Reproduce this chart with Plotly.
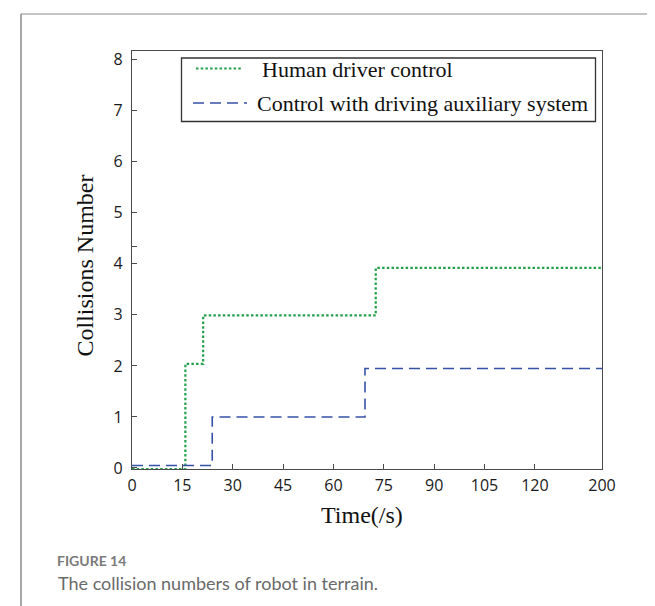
import plotly.graph_objects as go

# ---- data ----
human_t = [0, 15.9, 21.2, 72.6, 140]
human_n = [-0.02, 2.04, 2.99, 3.92, 3.92]

assist_t = [0, 23.9, 69.4, 140]
assist_n = [0.05, 1.0, 1.95, 1.95]

x_tickvals = [0, 15, 30, 45, 60, 75, 90, 105, 120, 140]
x_ticktext = ["0", "15", "30", "45", "60", "75", "90", "105", "120", "200"]
y_tickvals = [0, 1, 2, 3, 4, 4.33, 5, 6, 7, 8]
y_ticktext = ["0", "1", "2", "3", "4", "", "5", "6", "7", "8"]

series_names = ["Human driver control", "Control with driving auxiliary system"]
series_colors = ["#22a04a", "#3552a6"]
series_dash = ["2.5px,2.2px", "11px,6px"]
series_width = [2.2, 1.6]

serif = "Liberation Serif, Times New Roman, serif"
sans = "Open Sans, Noto Sans, sans-serif"
caption_font = "Lato, Open Sans, sans-serif"

# figure geometry (pixels)
W, H = 655, 606
L, R, T, B = 124, 61, 43, 145
PW, PH = W - L - R, H - T - B


def px_x(p):
    return (p - L) / PW


def px_y(p):
    return (H - B - p) / PH


fig = go.Figure()
for t, n, name, col, dsh, wd in [
    (human_t, human_n, series_names[0], series_colors[0], series_dash[0], series_width[0]),
    (assist_t, assist_n, series_names[1], series_colors[1], series_dash[1], series_width[1]),
]:
    fig.add_trace(go.Scatter(
        x=t, y=n, mode="lines", line_shape="hv", name=name,
        line=dict(color=col, width=wd, dash=dsh),
    ))

axis_common = dict(
    showline=True, linecolor="#4a4a4a", linewidth=1.4, mirror=True,
    ticks="inside", ticklen=5, tickcolor="#4a4a4a", tickwidth=1.2,
    showgrid=False, zeroline=False,
    tickfont=dict(family=sans, size=16, color="#1a1a1a"),
)

fig.update_xaxes(range=[0, 140], tickmode="array", tickvals=x_tickvals,
                 ticktext=x_ticktext, ticklabelstandoff=2, **axis_common)
fig.update_yaxes(range=[-0.02, 8.17], tickmode="array", tickvals=y_tickvals,
                 ticktext=y_ticktext, ticklabelstandoff=5, **axis_common)

shapes = [
    # page frame lines
    dict(type="line", xref="paper", yref="paper",
         x0=px_x(13), x1=px_x(660), y0=px_y(6), y1=px_y(6),
         line=dict(color="#c4c4c4", width=2)),
    dict(type="line", xref="paper", yref="paper",
         x0=px_x(13), x1=px_x(13), y0=px_y(6), y1=px_y(612),
         line=dict(color="#8a8a8a", width=1.5)),
    # legend box
    dict(type="rect", xref="paper", yref="paper",
         x0=px_x(173.5), x1=px_x(587.5), y0=px_y(50), y1=px_y(113.5),
         fillcolor="white", line=dict(color="#333", width=1.3), layer="above"),
    # legend samples
    dict(type="line", xref="paper", yref="paper",
         x0=px_x(188), x1=px_x(235), y0=px_y(60.5), y1=px_y(60.5),
         line=dict(color=series_colors[0], width=2.0, dash=series_dash[0]), layer="above"),
    dict(type="line", xref="paper", yref="paper",
         x0=px_x(185), x1=px_x(239), y0=px_y(95), y1=px_y(95),
         line=dict(color=series_colors[1], width=1.6, dash=series_dash[1]), layer="above"),
]

annotations = [
    # legend texts
    dict(text=series_names[0], xref="paper", yref="paper",
         x=px_x(252), y=px_y(61.5), xanchor="left", yanchor="middle", showarrow=False,
         font=dict(family=serif, size=22, color="#111")),
    dict(text=series_names[1], xref="paper", yref="paper",
         x=px_x(246.5), y=px_y(95), xanchor="left", yanchor="middle", showarrow=False,
         font=dict(family=serif, size=22, color="#111")),
    # axis titles
    dict(text="Time(/s)", xref="paper", yref="paper",
         x=px_x(354), y=px_y(507), xanchor="center", yanchor="middle", showarrow=False,
         font=dict(family=serif, size=24, color="#111")),
    dict(text="Collisions Number", xref="paper", yref="paper", textangle=-90,
         x=px_x(76), y=px_y(257.5), xanchor="center", yanchor="middle", showarrow=False,
         font=dict(family=serif, size=24, color="#111")),
    # caption
    dict(text="<b>FIGURE 14</b>", xref="paper", yref="paper",
         x=px_x(47), y=px_y(552), xanchor="left", yanchor="middle", showarrow=False,
         font=dict(family=caption_font, size=14, color="#7a7a7a")),
    dict(text="The collision numbers of robot in terrain.", xref="paper", yref="paper",
         x=px_x(48), y=px_y(574.5), xanchor="left", yanchor="middle", showarrow=False,
         font=dict(family=caption_font, size=18, color="#6a6a6a")),
]

fig.update_layout(
    width=W, height=H,
    margin=dict(l=L, r=R, t=T, b=B),
    paper_bgcolor="white", plot_bgcolor="white",
    showlegend=False,
    shapes=shapes,
    annotations=annotations,
)

fig.write_html("out.html")
